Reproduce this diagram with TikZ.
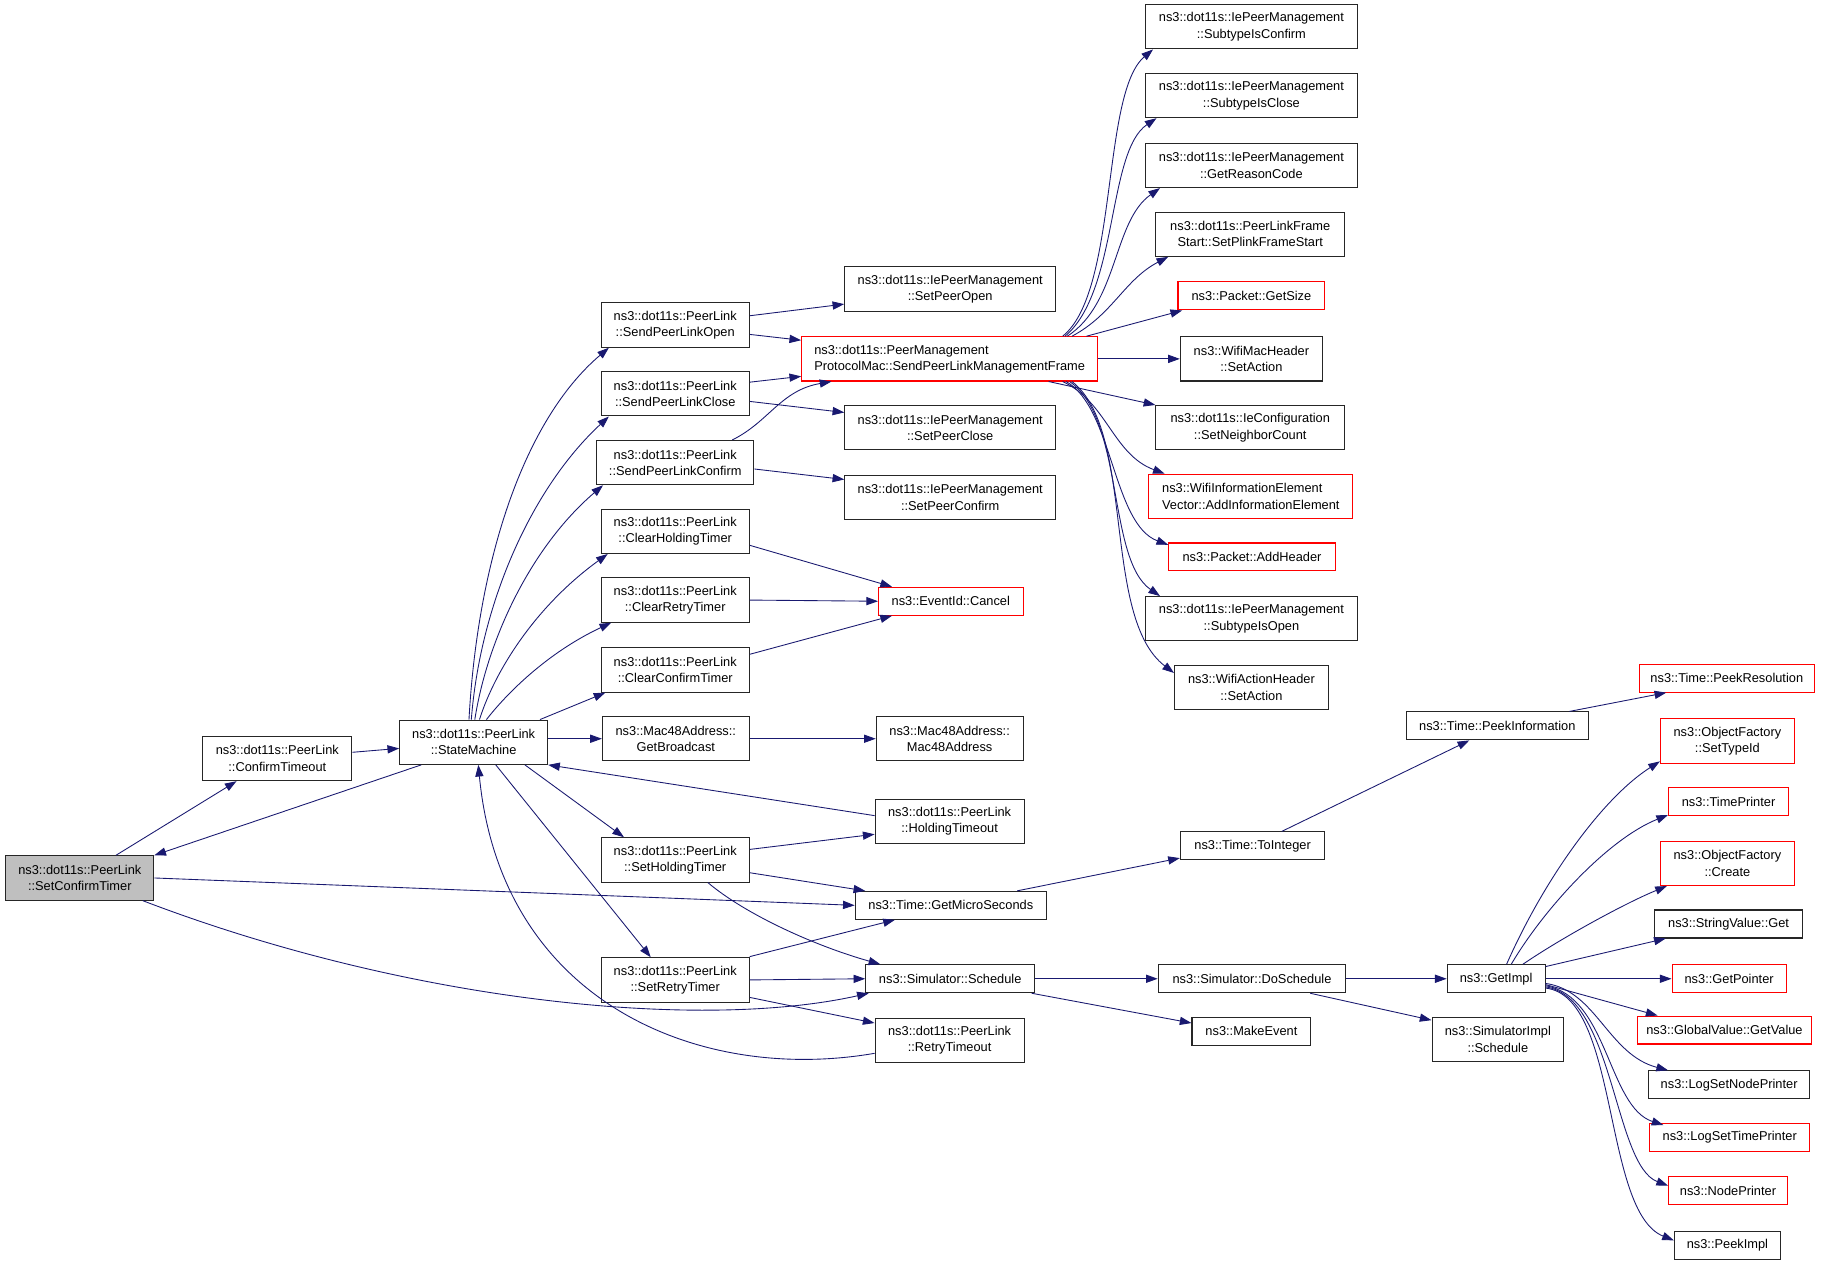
\documentclass[tikz,border=0pt]{standalone}
\usepackage{fontspec}
\setmainfont{Liberation Sans}
\usetikzlibrary{arrows.meta}
\definecolor{edgec}{HTML}{191970}
\definecolor{boxred}{HTML}{FF0000}
\definecolor{boxgray}{HTML}{BFBFBF}
\tikzset{
  fn/.style={draw=black!85, line width=0.9pt, fill=white, inner sep=0pt, align=center,
    font=\fontsize{11}{14}\selectfont},
  fnred/.style={fn, draw=boxred},
  fnroot/.style={fn, fill=boxgray},
  two/.style={minimum height=38pt},
  one/.style={minimum height=24pt},
  ed/.style={draw=edgec, line width=0.75pt, -{Triangle[length=10pt,width=7pt]}}
}
\begin{document}
\begin{tikzpicture}[x=1pt,y=-1pt]
\fill[white] (0,0) rectangle (1568,1086);
\useasboundingbox (0,0) rectangle (1568,1086);
% left part
\node[fnroot,two,minimum width=127pt] (SCT) at (68.5,753.5) {ns3::dot11s::PeerLink\\::SetConfirmTimer};
\node[fn,two,minimum width=128pt] (CT) at (238,651) {ns3::dot11s::PeerLink\\::ConfirmTimeout};
\node[fn,two,minimum width=127pt] (SM) at (406.5,637) {ns3::dot11s::PeerLink\\::StateMachine};
\node[fn,two,minimum width=127pt] (SPLO) at (579.5,279) {ns3::dot11s::PeerLink\\::SendPeerLinkOpen};
\node[fn,two,minimum width=127pt] (SPLC) at (579.5,338) {ns3::dot11s::PeerLink\\::SendPeerLinkClose};
\node[fn,two,minimum width=135pt] (SPLCf) at (579.5,397) {ns3::dot11s::PeerLink\\::SendPeerLinkConfirm};
\node[fn,two,minimum width=127pt] (CHT) at (579.5,456) {ns3::dot11s::PeerLink\\::ClearHoldingTimer};
\node[fn,two,minimum width=127pt] (CRT) at (579.5,515) {ns3::dot11s::PeerLink\\::ClearRetryTimer};
\node[fn,two,minimum width=127pt] (CCT) at (579.5,575) {ns3::dot11s::PeerLink\\::ClearConfirmTimer};
\node[fn,two,minimum width=126pt] (GB) at (580,634) {ns3::Mac48Address::\\GetBroadcast};
\node[fn,two,minimum width=127pt] (SHT) at (579.5,738) {ns3::dot11s::PeerLink\\::SetHoldingTimer};
\node[fn,two,minimum width=127pt] (SRT) at (579.5,841) {ns3::dot11s::PeerLink\\::SetRetryTimer};
% middle column
\node[fn,two,minimum width=181pt] (SPO) at (815.5,248) {ns3::dot11s::IePeerManagement\\::SetPeerOpen};
\node[fnred,two,minimum width=254pt,align=left] (SPLMF) at (815,308) {ns3::dot11s::PeerManagement\\ProtocolMac::SendPeerLinkManagementFrame};
\node[fn,two,minimum width=181pt] (SPC) at (815.5,367) {ns3::dot11s::IePeerManagement\\::SetPeerClose};
\node[fn,two,minimum width=181pt] (SPCf) at (815.5,427) {ns3::dot11s::IePeerManagement\\::SetPeerConfirm};
\node[fnred,one,minimum width=124pt] (Cancel) at (816,516) {ns3::EventId::Cancel};
\node[fn,two,minimum width=126pt] (M48) at (815,634) {ns3::Mac48Address::\\Mac48Address};
\node[fn,two,minimum width=128pt] (HT) at (815,705) {ns3::dot11s::PeerLink\\::HoldingTimeout};
\node[fn,one,minimum width=164pt] (GMS) at (816,777) {ns3::Time::GetMicroSeconds};
\node[fn,one,minimum width=145pt] (Sched) at (815.5,840) {ns3::Simulator::Schedule};
\node[fn,two,minimum width=128pt] (RT) at (815,893) {ns3::dot11s::PeerLink\\::RetryTimeout};
% right column (frame callees)
\node[fn,two,minimum width=182pt] (SIC) at (1074,23) {ns3::dot11s::IePeerManagement\\::SubtypeIsConfirm};
\node[fn,two,minimum width=182pt] (SICl) at (1074,82) {ns3::dot11s::IePeerManagement\\::SubtypeIsClose};
\node[fn,two,minimum width=182pt] (GRC) at (1074,142) {ns3::dot11s::IePeerManagement\\::GetReasonCode};
\node[fn,two,minimum width=162pt] (SPFS) at (1073,201) {ns3::dot11s::PeerLinkFrame\\Start::SetPlinkFrameStart};
\node[fnred,one,minimum width=126pt] (GS) at (1074,254) {ns3::Packet::GetSize};
\node[fn,two,minimum width=122pt] (WMH) at (1074,308) {ns3::WifiMacHeader\\::SetAction};
\node[fn,two,minimum width=162pt] (SNC) at (1073,367) {ns3::dot11s::IeConfiguration\\::SetNeighborCount};
\node[fnred,two,minimum width=175pt,align=left] (AIE) at (1073.5,426) {ns3::WifiInformationElement\\Vector::AddInformationElement};
\node[fnred,one,minimum width=143pt] (AH) at (1074.5,478) {ns3::Packet::AddHeader};
\node[fn,two,minimum width=182pt] (SIO) at (1074,531) {ns3::dot11s::IePeerManagement\\::SubtypeIsOpen};
\node[fn,two,minimum width=132pt] (WAH) at (1074,590) {ns3::WifiActionHeader\\::SetAction};
\node[fn,one,minimum width=124pt] (TI) at (1075,726) {ns3::Time::ToInteger};
\node[fn,one,minimum width=161pt] (DS) at (1074.5,840) {ns3::Simulator::DoSchedule};
\node[fn,one,minimum width=102pt] (ME) at (1074,885) {ns3::MakeEvent};
% far right
\node[fn,one,minimum width=156pt] (PI) at (1285,623) {ns3::Time::PeekInformation};
\node[fnred,one,minimum width=150pt] (PR) at (1482,582) {ns3::Time::PeekResolution};
\node[fn,one,minimum width=84pt] (GI) at (1284,840) {ns3::GetImpl};
\node[fn,two,minimum width=113pt] (SIS) at (1285.5,892) {ns3::SimulatorImpl\\::Schedule};
\node[fnred,two,minimum width=115pt] (OFS) at (1482.5,636) {ns3::ObjectFactory\\::SetTypeId};
\node[fnred,one,minimum width=103pt] (TP) at (1483.5,688) {ns3::TimePrinter};
\node[fnred,two,minimum width=115pt] (OFC) at (1482.5,741) {ns3::ObjectFactory\\::Create};
\node[fn,one,minimum width=127pt] (SVG) at (1483.5,793) {ns3::StringValue::Get};
\node[fnred,one,minimum width=98pt] (GP) at (1484,840) {ns3::GetPointer};
\node[fnred,one,minimum width=150pt] (GVV) at (1480,884) {ns3::GlobalValue::GetValue};
\node[fn,one,minimum width=138pt] (LSNP) at (1484,931) {ns3::LogSetNodePrinter};
\node[fnred,one,minimum width=137pt] (LSTP) at (1484.5,976) {ns3::LogSetTimePrinter};
\node[fnred,one,minimum width=102pt] (NP) at (1483,1022) {ns3::NodePrinter};
\node[fn,one,minimum width=91pt] (PImpl) at (1482.5,1069) {ns3::PeekImpl};
% edges from SetConfirmTimer / StateMachine
\draw[ed] ([xshift=31pt]SCT.north) -- ([xshift=-35pt]CT.south);
\draw[ed] ([xshift=-45pt]SM.south) -- (SCT.north east);
\draw[ed] (CT) -- (SM);
\draw[ed] (SCT.east) -- (GMS.west);
\draw[ed] ([xshift=-10pt]SCT.south east) .. controls (350,860) and (600,885) .. ([xshift=3pt]Sched.south west);
\draw[ed] ([xshift=-4pt]SM.north) .. controls (410,480) and (450,360) .. ([xshift=7pt]SPLO.south west);
\draw[ed] ([xshift=-2pt]SM.north) .. controls (412,520) and (455,420) .. ([xshift=7pt]SPLC.south west);
\draw[ed] ([xshift=1pt]SM.north) .. controls (418,550) and (455,470) .. ([xshift=6pt]SPLCf.south west);
\draw[ed] ([xshift=5pt]SM.north) .. controls (425,575) and (460,520) .. ([xshift=6pt]CHT.south west);
\draw[ed] ([xshift=11pt]SM.north) .. controls (435,595) and (470,560) .. ([xshift=9pt]CRT.south west);
\draw[ed] ([xshift=-7pt]SM.north east) -- ([xshift=4pt]CCT.south west);
\draw[ed] (SM.east|-GB.west) -- (GB.west);
\draw[ed] ([yshift=5pt]HT.west) -- (SM.south east);
\draw[ed] ([xshift=44pt]SM.south) -- ([xshift=-44pt]SHT.north);
\draw[ed] ([xshift=19pt]SM.south) -- ([xshift=-21pt]SRT.north);
\draw[ed] ([yshift=-11pt]RT.west) .. controls (600,930) and (430,860) .. ([xshift=4pt]SM.south);
% second level
\draw[ed] ([yshift=8pt]SPLO.east) -- ([yshift=-13pt]SPO.west);
\draw[ed] ([yshift=-8pt]SPLO.east) -- ([yshift=16pt]SPLMF.west);
\draw[ed] ([yshift=10pt]SPLC.east) -- ([yshift=-15pt]SPLMF.west);
\draw[ed] ([yshift=-6.5pt]SPLC.east) -- ([yshift=13pt]SPC.west);
\draw[ed] ([xshift=49pt]SPLCf.north) .. controls (660,362) and (670,335) .. ([xshift=26pt]SPLMF.south west);
\draw[ed] ([yshift=-5.5pt]SPLCf.east) -- ([yshift=15.5pt]SPCf.west);
\draw[ed] ([yshift=-12pt]CHT.east) -- ([xshift=12pt]Cancel.north west);
\draw[ed] (CRT.east) -- (Cancel.west);
\draw[ed] ([yshift=-6pt]CCT.north east) -- ([xshift=12pt]Cancel.south west);
\draw[ed] (GB.east) -- (M48.west);
\draw[ed] ([yshift=9pt]SHT.east) -- ([yshift=-11pt]HT.west);
\draw[ed] ([yshift=-11pt]SHT.east) -- ([xshift=9pt]GMS.north west);
\draw[ed] ([xshift=28pt]SHT.south) .. controls (640,785) and (700,812) .. ([xshift=-60pt]Sched.north);
\draw[ed] ([yshift=20pt]SRT.east) -- ([xshift=-48pt]GMS.south);
\draw[ed] (SRT.east) -- (Sched.west);
\draw[ed] ([yshift=-15pt]SRT.east) -- ([yshift=15pt]RT.west);
% time / scheduling chain
\draw[ed] ([xshift=57pt]GMS.north) -- ([yshift=2pt]TI.south west);
\draw[ed] ([xshift=25pt]TI.north) -- ([xshift=-24pt]PI.south);
\draw[ed] ([xshift=62pt]PI.north) -- ([xshift=-52pt]PR.south);
\draw[ed] (Sched.east) -- (DS.west);
\draw[ed] ([xshift=-3pt]Sched.south east) -- ([yshift=7pt]ME.west);
\draw[ed] (DS.east) -- (GI.west);
\draw[ed] ([xshift=50pt]DS.south) -- ([yshift=-3pt]SIS.north west);
% GetImpl fan-out
\draw[ed] ([xshift=9pt]GI.north) .. controls (1325,755) and (1375,685) .. ([yshift=2pt]OFS.south west);
\draw[ed] ([xshift=13pt]GI.north) .. controls (1325,780) and (1380,720) .. ([yshift=1pt]TP.south west);
\draw[ed] ([xshift=23pt]GI.north) .. controls (1340,805) and (1395,775) .. ([xshift=6pt]OFC.south west);
\draw[ed] ([yshift=-2pt]GI.north east) -- ([xshift=10pt]SVG.south west);
\draw[ed] (GI.east) -- (GP.west);
\draw[ed] ([yshift=-5pt]GI.east) -- ([xshift=18pt]GVV.north west);
\draw[ed] ([yshift=-4pt]GI.east) .. controls (1370,850) and (1380,905) .. ([xshift=17pt]LSNP.north west);
\draw[ed] ([yshift=-6pt]GI.east) .. controls (1380,855) and (1380,950) .. ([xshift=12pt,yshift=-2pt]LSTP.north west);
\draw[ed] ([yshift=-7pt]GI.east) .. controls (1385,855) and (1385,1000) .. ([yshift=-8pt]NP.north west);
\draw[ed] ([yshift=-8pt]GI.east) .. controls (1390,855) and (1375,1040) .. ([yshift=-8pt]PImpl.north west);
% SendPeerLinkManagementFrame fan-out
\draw[ed] ([xshift=97pt]SPLMF.north) .. controls (960,250) and (945,80) .. ([xshift=7pt]SIC.south west);
\draw[ed] ([xshift=99pt]SPLMF.north) .. controls (960,250) and (950,130) .. ([xshift=10pt]SICl.south west);
\draw[ed] ([xshift=101pt]SPLMF.north) .. controls (960,260) and (955,190) .. ([xshift=13pt]GRC.south west);
\draw[ed] ([xshift=105pt]SPLMF.north) .. controls (955,270) and (965,240) .. ([xshift=11pt]SPFS.south west);
\draw[ed] ([xshift=-10pt]SPLMF.north east) -- ([xshift=4pt]GS.south west);
\draw[ed] (SPLMF.east) -- (WMH.west);
\draw[ed] ([xshift=85pt]SPLMF.south) -- (SNC.north west);
\draw[ed] ([xshift=97pt]SPLMF.south) .. controls (950,345) and (955,390) .. ([xshift=14pt]AIE.north west);
\draw[ed] ([xshift=100pt]SPLMF.south) .. controls (955,350) and (955,450) .. ([yshift=-2pt]AH.north west);
\draw[ed] ([xshift=103pt]SPLMF.south) .. controls (965,360) and (950,480) .. ([xshift=13pt]SIO.north west);
\draw[ed] ([xshift=105pt]SPLMF.south) .. controls (975,370) and (945,530) .. ([yshift=-7pt]WAH.north west);
\end{tikzpicture}
\end{document}
